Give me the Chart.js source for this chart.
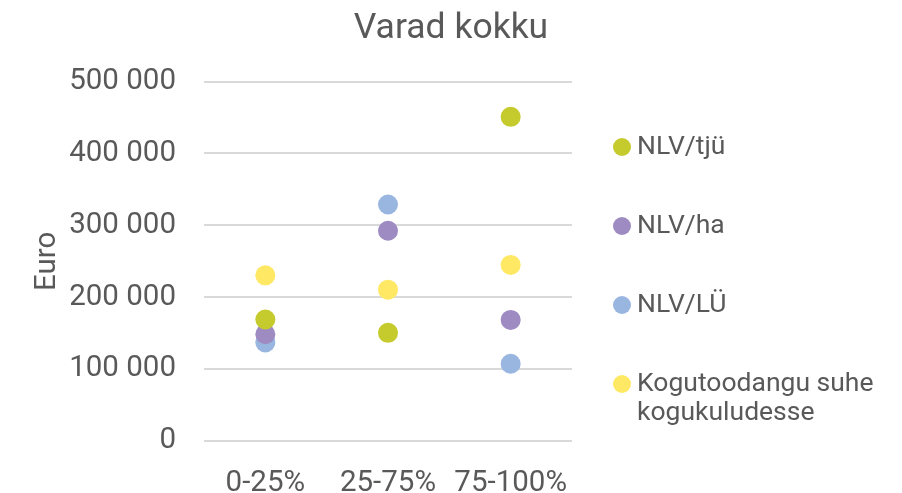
<!DOCTYPE html>
<html>
<head>
<meta charset="utf-8">
<script src="https://cdn.jsdelivr.net/npm/chart.js@4.4.1/dist/chart.umd.min.js"></script>
<style>
  html, body { margin: 0; padding: 0; background: #fff; overflow: hidden; }
  #wrap { position: relative; width: 902px; height: 493px; overflow: hidden; }
</style>
</head>
<body>
<div id="wrap"><canvas id="chart" width="902" height="530"></canvas></div>
<script>
// categories and values
const categories = ['0-25%', '25-75%', '75-100%'];
const nlvTju = [169000, 150500, 451000];
const nlvHa = [148500, 292500, 168500];
const nlvLu = [137000, 329000, 107500];
const kogutoodang = [230500, 210500, 245000];
const yTicks = [0, 100000, 200000, 300000, 400000, 500000];

const seriesNames = ['NLV/tjü', 'NLV/ha', 'NLV/LÜ', ['Kogutoodangu suhe', 'kogukuludesse']];
const seriesColors = ['#C5CA2D', '#9D8BC1', '#99B6E1', '#FFE863'];

const textColor = '#595959';
const fontFamily = 'Roboto, "Noto Sans", sans-serif';

function fmt(v) {
  return String(v).replace(/\B(?=(\d{3})+(?!\d))/g, ' ');
}

// legend drawn by hand so item spacing matches the original
const sideLegend = {
  id: 'sideLegend',
  afterDraw(chart) {
    const ctx = chart.ctx;
    const markX = 622, textX = 637, firstY = 147, step = 79, lineH = 29;
    ctx.save();
    ctx.font = '26.5px ' + fontFamily;
    ctx.textBaseline = 'middle';
    ctx.textAlign = 'left';
    chart.data.datasets.forEach((ds, i) => {
      const y = firstY + i * step;
      ctx.fillStyle = ds.backgroundColor;
      ctx.beginPath();
      ctx.arc(markX, y, 9, 0, Math.PI * 2);
      ctx.fill();
      ctx.fillStyle = textColor;
      const lines = Array.isArray(ds.label) ? ds.label : [ds.label];
      lines.forEach((t, j) => ctx.fillText(t, textX, y + j * lineH));
    });
    ctx.restore();
  }
};

const datasets = [nlvTju, nlvHa, nlvLu, kogutoodang].map((vals, i) => ({
  label: seriesNames[i],
  data: vals,
  showLine: false,
  backgroundColor: seriesColors[i],
  borderColor: seriesColors[i],
  borderWidth: 0,
  pointRadius: 10,
  pointHoverRadius: 10
}));

new Chart(document.getElementById('chart'), {
  type: 'line',
  data: { labels: categories, datasets: datasets },
  options: {
    responsive: false,
    animation: false,
    layout: { padding: 0 },
    plugins: {
      legend: { display: false },
      tooltip: { enabled: false },
      title: {
        display: true,
        text: 'Varad kokku',
        color: textColor,
        font: { family: fontFamily, size: 35.5, weight: 'normal' },
        padding: { top: 8, bottom: 31 }
      }
    },
    scales: {
      x: {
        type: 'category',
        offset: true,
        grid: { display: false, drawTicks: false },
        border: { display: false },
        ticks: {
          color: textColor,
          font: { family: fontFamily, size: 29.5 },
          padding: 25,
          maxRotation: 0
        },
        afterFit: (s) => { s.height = 89; }
      },
      y: {
        min: 0,
        max: 500000,
        afterBuildTicks: (axis) => { axis.ticks = yTicks.map(v => ({ value: v })); },
        grid: { color: '#D9D9D9', lineWidth: 2, drawTicks: false },
        border: { display: false },
        ticks: {
          color: textColor,
          font: { family: fontFamily, size: 29.5 },
          padding: 28,
          callback: (v) => fmt(v)
        },
        title: {
          display: true,
          text: 'Euro',
          color: textColor,
          font: { family: fontFamily, size: 29.5 },
          padding: { top: 30, bottom: 0 }
        },
        afterFit: (s) => { s.width = 204; }
      },
      // empty right-hand axis that only keeps room for the legend
      side: {
        position: 'right',
        grid: { display: false, drawTicks: false },
        border: { display: false },
        ticks: { display: false },
        afterFit: (s) => { s.width = 330; }
      }
    }
  },
  plugins: [sideLegend]
});
</script>
</body>
</html>
